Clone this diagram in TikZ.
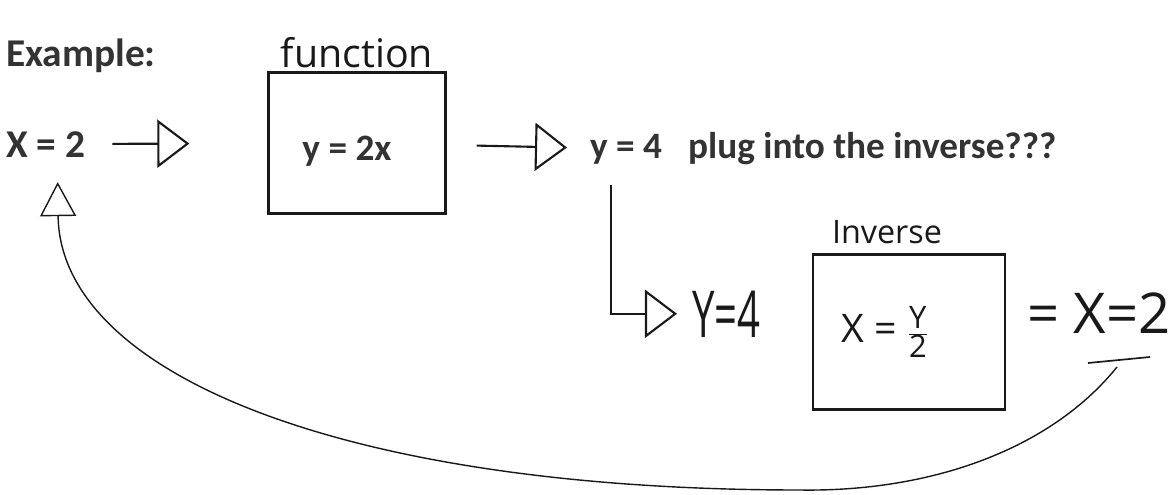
\documentclass[tikz,border=0pt]{standalone}
\usepackage{fontspec}
\setmainfont{Carlito}
\newfontfamily\handfont{Open Sans}
\usepackage{graphicx}
\usetikzlibrary{arrows.meta,positioning}
\definecolor{vink}{RGB}{51,51,51}
\definecolor{vpen}{RGB}{25,25,25}
\newcommand{\handsize}[1]{\fontsize{#1}{#1}\selectfont}

\begin{document}
\begin{tikzpicture}[
  x=0.025cm, y=-0.025cm,
  print/.style={font=\bfseries\fontsize{26.5}{30}\selectfont, text=vink, inner sep=12pt},
  big/.style={font=\bfseries\fontsize{28}{32}\selectfont},
  hand/.style={font=\handfont, text=vpen, inner sep=2pt},
  hbox/.style={draw=vpen, line width=1.6pt},
  harrow/.style={draw=vpen, line width=1.5pt, -{Triangle[open, length=8mm, width=12mm]}}
]
\useasboundingbox (0,0) rectangle (1172,494);
\node[print, big, anchor=base west] (ex) at (-11,66) {Example:};
\node[print, big, anchor=base west] (xin) at (-11,157) {X = 2};
\node[print, hbox, minimum width=4.425cm, minimum height=3.525cm] (fn) at (357,143)
  {\raisebox{-0.2cm}[\height][\depth]{y = 2x}\rule{0.5cm}{0pt}};
\node[hand, above=0pt of fn, font=\handfont\handsize{28}] (fnlab) {function};
\node[print, anchor=base west] (y4) at (573,158) {y = 4};
\node[print, anchor=base west] (plug) at (671,158) {plug into the inverse???};
\node[hand, anchor=base west, font=\handfont\handsize{46}] (Y4) at (689,337) {\scalebox{0.62}[1]{Y=4}};
\node[hand, hbox, font=\handfont\handsize{28}, minimum width=4.8cm, minimum height=3.875cm] (inv) at (909,332)
  {X = $\frac{\mbox{\handsize{22}Y}}{\mbox{\handsize{22}2}}$\rule{1.2cm}{0pt}};
\node[hand, above=0.15cm of inv, xshift=-0.55cm, font=\handfont\handsize{23}] (invlab) {Inverse};
\node[hand, anchor=base west, font=\handfont\handsize{40}] (res) at (1024,333) {= X=2};
\coordinate (back) at (1117,367);
\coordinate (low) at (800,490);
% forward steps
\draw[harrow, shorten <=0.25cm, shorten >=1.95cm] (xin) -- (fn);
\draw[harrow, shorten <=0.75cm, shorten >=0.15cm] (fn) -- (y4);
\draw[harrow, shorten >=0.3cm] ([xshift=0.95cm, yshift=-0.1cm]y4.south west) |- (Y4);
% back to the start
\draw[draw=vpen, line width=1.2pt] (1088,363) -- (1150,357);
\draw[draw=vpen, line width=1pt, -{Triangle[open, length=8.5mm, width=9mm]}] (back)
  .. controls (1050,450) and (930,492) .. (low)
  .. controls (341,490) and (60,373) .. ([xshift=0.3cm, yshift=-0.2cm]xin.south);
\end{tikzpicture}
\end{document}
